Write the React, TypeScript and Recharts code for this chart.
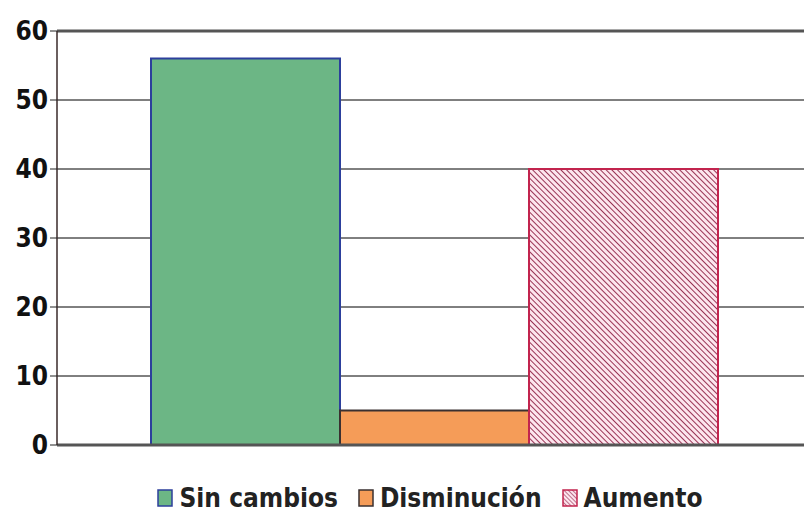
import { Bar, BarChart, CartesianGrid, Legend, ReferenceLine, XAxis, YAxis } from 'recharts'

const categories = ['Respuesta']
const seriesNames = ['Sin cambios', 'Disminución', 'Aumento']
const sinCambios = [56]
const disminucion = [5]
const aumento = [40]
const yTicks = [0, 10, 20, 30, 40, 50, 60]

const chartData = categories.map((name, i) => ({
  name,
  sinCambios: sinCambios[i],
  disminucion: disminucion[i],
  aumento: aumento[i],
}))

const font = '"DejaVu Sans Condensed", "Liberation Sans Narrow", "Arial Narrow", sans-serif'

const legendItems = [
  { label: seriesNames[0], fill: '#6cb685', stroke: '#2c3f9c' },
  { label: seriesNames[1], fill: '#f59c58', stroke: '#3a3030' },
  { label: seriesNames[2], fill: 'url(#hatchSmall)', stroke: '#c2244e' },
]

function LegendContent() {
  return (
    <div
      style={{
        display: 'flex',
        justifyContent: 'center',
        gap: 20,
        fontFamily: font,
        fontWeight: 'bold',
        fontSize: 26,
        color: '#222',
        paddingLeft: 56,
        paddingTop: 28,
      }}
    >
      {legendItems.map((it) => (
        <span key={it.label} style={{ display: 'flex', alignItems: 'center', gap: 6 }}>
          <svg width={16} height={18}>
            <rect x={1} y={1} width={14} height={16} fill={it.fill} stroke={it.stroke} strokeWidth={1.5} />
          </svg>
          {it.label}
        </span>
      ))}
    </div>
  )
}

export default function App() {
  return (
    <div style={{ position: 'absolute', left: 0, top: 0, background: '#fff' }}>
      <BarChart
        width={804}
        height={520}
        data={chartData}
        margin={{ top: 31, right: 0, left: 0, bottom: 0 }}
        barGap={0}
        barSize={189}
      >
        <defs>
          <pattern id="hatch" width={4} height={4} patternUnits="userSpaceOnUse" patternTransform="rotate(-45)">
            <rect width={4} height={4} fill="#fde6ee" />
            <line x1={0} y1={0} x2={0} y2={4} stroke="#8e1f44" strokeWidth={1.8} />
          </pattern>
          <pattern id="hatchSmall" width={3} height={3} patternUnits="userSpaceOnUse" patternTransform="rotate(-45)">
            <rect width={3} height={3} fill="#fde6ee" />
            <line x1={0} y1={0} x2={0} y2={3} stroke="#8e1f44" strokeWidth={1.2} />
          </pattern>
        </defs>
        <CartesianGrid stroke="#000" strokeWidth={1} vertical={false} />
        <XAxis
          dataKey="name"
          tick={false}
          height={10}
          padding={{ left: 7, right: 0 }}
          axisLine={{ stroke: '#555', strokeWidth: 3 }}
          tickLine={false}
        />
        <YAxis
          domain={[0, 60]}
          ticks={yTicks}
          width={57}
          tick={{ fill: '#111', fontSize: 26, fontWeight: 'bold', fontFamily: font }}
          tickSize={7}
          tickLine={{ stroke: '#222' }}
          axisLine={{ stroke: '#3a2a2a', strokeWidth: 1.5 }}
          interval={0}
        />
        <ReferenceLine y={60} stroke="#555" strokeWidth={3} />
        <Legend verticalAlign="bottom" height={65} content={<LegendContent />} />
        <Bar dataKey="sinCambios" name={seriesNames[0]} fill="#6cb685" stroke="#2c3f9c" strokeWidth={2} isAnimationActive={false} />
        <Bar dataKey="disminucion" name={seriesNames[1]} fill="#f59c58" stroke="#3a3030" strokeWidth={2} isAnimationActive={false} />
        <Bar dataKey="aumento" name={seriesNames[2]} fill="url(#hatch)" stroke="#c2244e" strokeWidth={2} isAnimationActive={false} />
      </BarChart>
    </div>
  )
}
